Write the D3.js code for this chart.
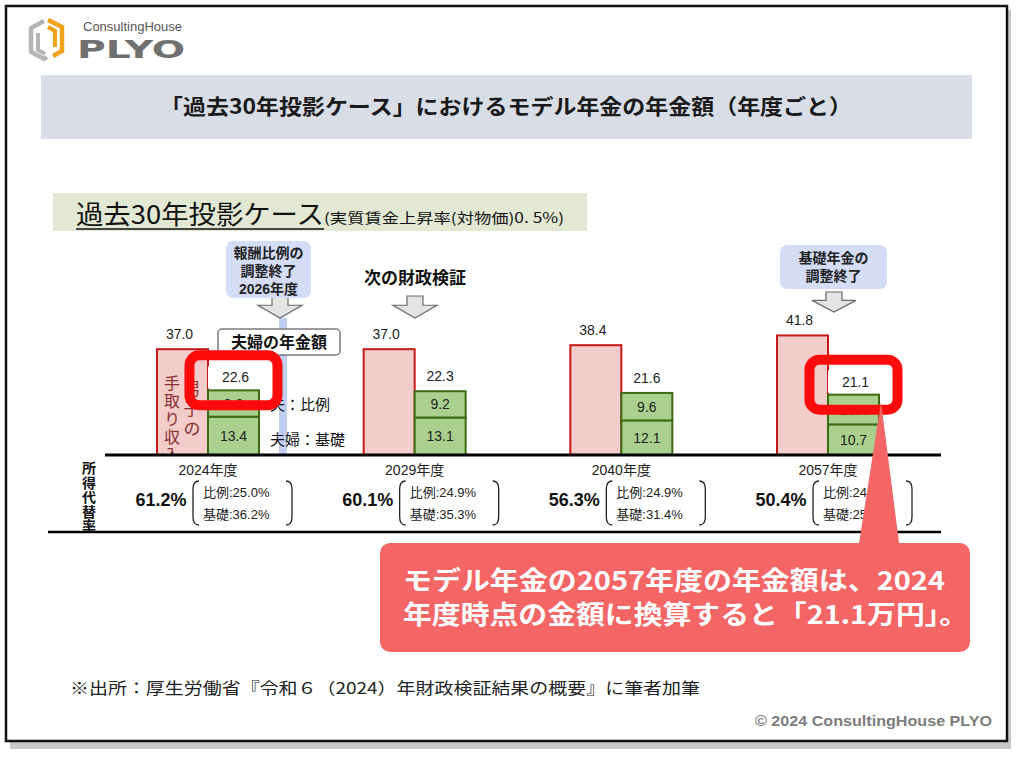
<!DOCTYPE html>
<html><head><meta charset="utf-8">
<script src="https://cdn.jsdelivr.net/npm/d3@7"></script>
<style>
html,body{margin:0;padding:0;background:#fff;}
svg{display:block;}
</style></head>
<body>
<svg id="c" width="1024" height="757"></svg>
<script>
// ---- data ----
const years = ["2024", "2029", "2040", "2057"];
const yearLabels = ["2024年度", "2029年度", "2040年度", "2057年度"];
const income = [37.0, 37.0, 38.4, 41.8];          // 現役男子の手取り収入
const hirei = [9.2, 9.2, 9.6, 10.4];              // 夫：比例
const kiso = [13.4, 13.1, 12.1, 10.7];            // 夫婦：基礎
const total = [22.6, 22.3, 21.6, 21.1];           // 夫婦の年金額
const replTotal = [61.2, 60.1, 56.3, 50.4];       // 所得代替率
const replHirei = [25.0, 24.9, 24.9, 24.5];
const replKiso = [36.2, 35.3, 31.4, 25.9];
const highlighted = ["2024", "2057"];

const JP = "'Noto Sans CJK JP', sans-serif";
const MIX = "'Liberation Sans', 'Noto Sans CJK JP', sans-serif";

const svg = d3.select("#c");

// ---- frame ----
svg.append("rect").attr("x", 10).attr("y", 10).attr("width", 1001).attr("height", 739).attr("fill", "#c8c8c8");
svg.append("rect").attr("x", 6).attr("y", 6).attr("width", 1001).attr("height", 735)
  .attr("fill", "#fff").attr("stroke", "#111").attr("stroke-width", 2.5);

// ---- logo ----
const logo = svg.append("g");
logo.append("path").attr("d", "M44,21 L31,28 L31,52 L44,59 L47,57")
  .attr("fill", "none").attr("stroke", "#b5b5b5").attr("stroke-width", 4.5);
logo.append("path").attr("d", "M38,33 L38,50 L45,54")
  .attr("fill", "none").attr("stroke", "#b5b5b5").attr("stroke-width", 4);
logo.append("path").attr("d", "M48,20 L62,27 L62,51 L53,56")
  .attr("fill", "none").attr("stroke", "#f0a21a").attr("stroke-width", 4.5);
logo.append("path").attr("d", "M48,27 L55,31 L55,47")
  .attr("fill", "none").attr("stroke", "#f0a21a").attr("stroke-width", 4);
logo.append("text").attr("x", 83).attr("y", 31).attr("font-family", MIX).attr("font-size", 12.5)
  .attr("fill", "#555").attr("textLength", 99).attr("lengthAdjust", "spacingAndGlyphs").text("ConsultingHouse");
logo.append("text").attr("x", 77).attr("y", 58).attr("font-family", "'DejaVu Sans', sans-serif").attr("font-weight", "bold")
  .attr("font-size", 25).attr("fill", "#707070").attr("textLength", 108).attr("lengthAdjust", "spacingAndGlyphs").text("PLYO");

// ---- title band ----
svg.append("rect").attr("x", 41).attr("y", 75).attr("width", 931).attr("height", 64).attr("fill", "#d9dde6");
svg.append("text").attr("x", 160).attr("y", 114).attr("font-family", JP).attr("font-weight", "bold")
  .attr("font-size", 21).attr("fill", "#1a1a1a").attr("textLength", 692).attr("lengthAdjust", "spacingAndGlyphs")
  .text("「過去30年投影ケース」におけるモデル年金の年金額（年度ごと）");

// ---- chart header ----
svg.append("rect").attr("x", 53).attr("y", 193).attr("width", 534).attr("height", 38).attr("fill", "#e3e8d5");
svg.append("text").attr("x", 76).attr("y", 224).attr("font-family", JP).attr("font-size", 26)
  .attr("fill", "#111").attr("textLength", 248).attr("lengthAdjust", "spacingAndGlyphs").text("過去30年投影ケース");
svg.append("line").attr("x1", 76).attr("x2", 324).attr("y1", 229).attr("y2", 229).attr("stroke", "#111").attr("stroke-width", 1.5);
svg.append("text").attr("x", 324).attr("y", 223).attr("font-family", JP).attr("font-size", 14)
  .attr("fill", "#111").attr("textLength", 240).attr("lengthAdjust", "spacingAndGlyphs").text("(実質賃金上昇率(対物価)0. 5%)");

// ---- scales ----
const x = d3.scalePoint().domain(years).range([208, 828]);
const y = d3.scaleLinear().domain([0, 45]).range([455, 455 - 45 * 2.86]);
const bw = 51;

const rows = years.map((yr, i) => ({yr, label: yearLabels[i], income: income[i], hirei: hirei[i], kiso: kiso[i],
  total: total[i], rt: replTotal[i], rh: replHirei[i], rk: replKiso[i]}));

// 2026 marker line
svg.append("rect").attr("x", 279).attr("y", 318).attr("width", 8).attr("height", 137).attr("fill", "#b9c9f0").attr("opacity", 0.9);

// block arrows
function arrow(cx, top, h) {
  svg.append("path")
    .attr("d", `M${cx-8},${top} L${cx+8},${top} L${cx+8},${top+h*0.42} L${cx+22},${top+h*0.42} L${cx},${top+h} L${cx-22},${top+h*0.42} L${cx-8},${top+h*0.42} Z`)
    .attr("fill", "#e4e4e4").attr("stroke", "#6a6a6a").attr("stroke-width", 1.2);
}
arrow(280, 296, 22);
arrow(415, 296, 22);
arrow(834, 292, 20);

// blue info boxes
svg.append("rect").attr("x", 226).attr("y", 241).attr("width", 85).attr("height", 57).attr("rx", 7).attr("fill", "#d5dcf6");
["報酬比例の", "調整終了", "2026年度"].forEach((t, i) => {
  svg.append("text").attr("x", 268.5).attr("y", 258 + i * 18).attr("text-anchor", "middle").attr("font-family", MIX)
    .attr("font-weight", "bold").attr("font-size", 14).attr("fill", "#222").text(t);
});
svg.append("rect").attr("x", 780).attr("y", 245).attr("width", 107).attr("height", 44).attr("rx", 7).attr("fill", "#d5dcf6");
["基礎年金の", "調整終了"].forEach((t, i) => {
  svg.append("text").attr("x", 833.5).attr("y", 263 + i * 18).attr("text-anchor", "middle").attr("font-family", JP)
    .attr("font-weight", "bold").attr("font-size", 14).attr("fill", "#222").text(t);
});
svg.append("text").attr("x", 415).attr("y", 284).attr("text-anchor", "middle").attr("font-family", JP)
  .attr("font-weight", "bold").attr("font-size", 17).attr("fill", "#111").text("次の財政検証");

// ---- bars ----
const g = svg.append("g");
g.selectAll(".inc").data(rows).join("rect")
  .attr("x", d => x(d.yr) - bw).attr("y", d => y(d.income)).attr("width", bw).attr("height", d => y(0) - y(d.income))
  .attr("fill", "#f3cccc").attr("stroke", "#c81818").attr("stroke-width", 2);
g.selectAll(".incl").data(rows).join("text")
  .attr("x", d => x(d.yr) - bw / 2 - 3).attr("y", d => y(d.income) - 10).attr("text-anchor", "middle")
  .attr("font-family", MIX).attr("font-size", 14).attr("fill", "#222").text(d => d.income.toFixed(1));

// vertical text in first income bar (two columns, vertical writing)
const first = rows[0];
svg.append("clipPath").attr("id", "vclip").append("rect")
  .attr("x", x(first.yr) - bw).attr("y", y(first.income)).attr("width", bw).attr("height", y(0) - y(first.income));
const vt = svg.append("g").attr("clip-path", "url(#vclip)");
vt.append("text").attr("x", x(first.yr) - 36).attr("y", 375)
  .style("writing-mode", "vertical-rl").attr("font-family", JP).attr("font-size", 16).attr("letter-spacing", 2)
  .attr("fill", "#8a3030").text("手取り収入");
vt.append("text").attr("x", x(first.yr) - 16).attr("y", 380)
  .style("writing-mode", "vertical-rl").attr("font-family", JP).attr("font-size", 17).attr("letter-spacing", 3)
  .attr("fill", "#8a3030").text("男子の");

// pension stacks
g.selectAll(".kiso").data(rows).join("rect")
  .attr("x", d => x(d.yr)).attr("y", d => y(d.kiso)).attr("width", bw).attr("height", d => y(0) - y(d.kiso))
  .attr("fill", "#a9d08e").attr("stroke", "#3d6b12").attr("stroke-width", 2);
g.selectAll(".hirei").data(rows).join("rect")
  .attr("x", d => x(d.yr)).attr("y", d => y(d.kiso + d.hirei)).attr("width", bw).attr("height", d => y(d.kiso) - y(d.kiso + d.hirei))
  .attr("fill", "#a9d08e").attr("stroke", "#3d6b12").attr("stroke-width", 2);
g.selectAll(".kisol").data(rows).join("text")
  .attr("x", d => x(d.yr) + bw / 2).attr("y", d => (y(0) + y(d.kiso)) / 2 + 5).attr("text-anchor", "middle")
  .attr("font-family", MIX).attr("font-size", 14).attr("fill", "#222").text(d => d.kiso.toFixed(1));
g.selectAll(".hireil").data(rows).join("text")
  .attr("x", d => x(d.yr) + bw / 2).attr("y", d => (y(d.kiso) + y(d.kiso + d.hirei)) / 2 + 5).attr("text-anchor", "middle")
  .attr("font-family", MIX).attr("font-size", 14).attr("fill", "#222").text(d => d.hirei.toFixed(1));

// totals
rows.forEach(d => {
  const hl = highlighted.includes(d.yr);
  const cx = x(d.yr) + bw / 2;
  const ty = y(d.kiso + d.hirei);
  if (hl) {
    svg.append("rect").attr("x", x(d.yr)).attr("y", ty - 24).attr("width", bw + 4 + (d.yr === "2057" ? 4 : 0)).attr("height", 22)
      .attr("fill", "#fff");
    svg.append("text").attr("x", cx + 2).attr("y", ty - 8).attr("text-anchor", "middle").attr("font-family", MIX)
      .attr("font-size", 14).attr("fill", "#222").text(d.total.toFixed(1));
  } else {
    svg.append("text").attr("x", cx).attr("y", ty - 10).attr("text-anchor", "middle").attr("font-family", MIX)
      .attr("font-size", 14).attr("fill", "#222").text(d.total.toFixed(1));
  }
});

// 夫婦の年金額 callout and series labels
svg.append("rect").attr("x", 218).attr("y", 329).attr("width", 122).attr("height", 26).attr("rx", 4)
  .attr("fill", "#fff").attr("stroke", "#7a7a7a").attr("stroke-width", 1.5);
svg.append("text").attr("x", 279).attr("y", 348).attr("text-anchor", "middle").attr("font-family", JP)
  .attr("font-weight", "bold").attr("font-size", 16).attr("fill", "#111").text("夫婦の年金額");
svg.append("text").attr("x", 270).attr("y", 410).attr("font-family", JP).attr("font-size", 15).attr("fill", "#111").text("夫：比例");
svg.append("text").attr("x", 270).attr("y", 445).attr("font-family", JP).attr("font-size", 15).attr("fill", "#111").text("夫婦：基礎");

// red highlight boxes
rows.filter(d => highlighted.includes(d.yr)).forEach(d => {
  const cx = x(d.yr) + bw / 2;
  const ty = y(d.kiso + d.hirei);
  svg.append("rect").attr("x", cx - 44).attr("y", ty - 35).attr("width", 88).attr("height", 50).attr("rx", 10)
    .attr("fill", "none").attr("stroke", "#ff0a0a").attr("stroke-width", 10);
});

// axis lines
svg.append("line").attr("x1", 105).attr("x2", 941).attr("y1", 455).attr("y2", 455).attr("stroke", "#000").attr("stroke-width", 3);
svg.append("line").attr("x1", 48).attr("x2", 941).attr("y1", 532).attr("y2", 532).attr("stroke", "#000").attr("stroke-width", 2.5);

// 所得代替率 vertical label
svg.append("text").attr("x", 89).attr("y", 461).style("writing-mode", "vertical-rl").attr("font-family", JP)
  .attr("font-weight", "bold").attr("font-size", 14).attr("letter-spacing", 0.5).attr("fill", "#111").text("所得代替率");

// replacement rate block
rows.forEach(d => {
  const cx = x(d.yr);
  svg.append("text").attr("x", cx).attr("y", 475).attr("text-anchor", "middle").attr("font-family", MIX)
    .attr("font-size", 14).attr("fill", "#222").text(d.label);
  svg.append("text").attr("x", cx - 47).attr("y", 506).attr("text-anchor", "middle").attr("font-family", MIX)
    .attr("font-weight", "bold").attr("font-size", 18).attr("fill", "#111").text(d.rt.toFixed(1) + "%");
  const bl = cx - 15, br = cx + 84;
  svg.append("path").attr("d", `M${bl+6},481 Q${bl},481 ${bl},489 L${bl},517 Q${bl},525 ${bl+6},525`)
    .attr("fill", "none").attr("stroke", "#222").attr("stroke-width", 1.3);
  svg.append("path").attr("d", `M${br-6},481 Q${br},481 ${br},489 L${br},517 Q${br},525 ${br-6},525`)
    .attr("fill", "none").attr("stroke", "#222").attr("stroke-width", 1.3);
  svg.append("text").attr("x", cx - 5).attr("y", 497).attr("font-family", MIX).attr("font-size", 13).attr("fill", "#222")
    .text("比例:" + d.rh.toFixed(1) + "%");
  svg.append("text").attr("x", cx - 5).attr("y", 519).attr("font-family", MIX).attr("font-size", 13).attr("fill", "#222")
    .text("基礎:" + d.rk.toFixed(1) + "%");
});

// red callout
const cc = "#f46565";
svg.append("path").attr("d", "M881,402 L900,550 L858,550 Z").attr("fill", cc);
svg.append("rect").attr("x", 380).attr("y", 543).attr("width", 590).attr("height", 109).attr("rx", 10).attr("fill", cc);
svg.append("text").attr("x", 403).attr("y", 590).attr("font-family", JP).attr("font-weight", "bold").attr("font-size", 26)
  .attr("fill", "#fff").attr("textLength", 542).attr("lengthAdjust", "spacingAndGlyphs").text("モデル年金の2057年度の年金額は、2024");
svg.append("text").attr("x", 403).attr("y", 624).attr("font-family", JP).attr("font-weight", "bold").attr("font-size", 26)
  .attr("fill", "#fff").attr("textLength", 565).attr("lengthAdjust", "spacingAndGlyphs").text("年度時点の金額に換算すると「21.1万円」。");

// footnote
svg.append("text").attr("x", 70).attr("y", 694).attr("font-family", JP).attr("font-size", 16).attr("fill", "#222")
  .attr("textLength", 630).attr("lengthAdjust", "spacingAndGlyphs").text("※出所：厚生労働省『令和６（2024）年財政検証結果の概要』に筆者加筆");
svg.append("text").attr("x", 992).attr("y", 726).attr("text-anchor", "end").attr("font-family", MIX).attr("font-weight", "bold")
  .attr("font-size", 14).attr("fill", "#7d7d7d").attr("textLength", 237).attr("lengthAdjust", "spacingAndGlyphs").text("© 2024 ConsultingHouse PLYO");
</script>
</body></html>
